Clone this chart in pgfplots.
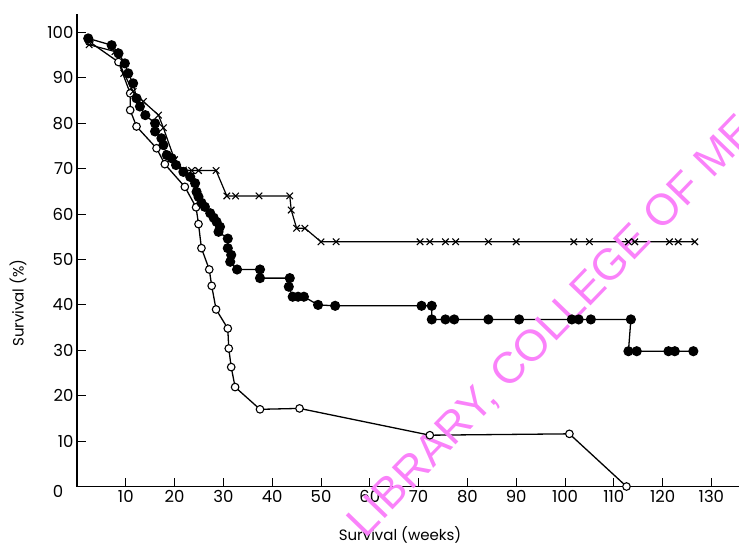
\documentclass[border=0pt]{standalone}
\usepackage{pgfplots}
\pgfplotsset{compat=1.18}
\usepackage{fontspec}
\setmainfont{Poppins}
\newfontfamily\wmfont{Liberation Sans}
\definecolor{wm}{RGB}{250,130,250}

\pgfplotstableread{
x y
2.5 98.0
8.5 93.5
10.9 86.6
10.9 82.9
12.2 79.3
16.3 74.5
18.0 71.0
22.1 66.0
24.4 61.5
24.9 57.8
25.5 52.5
27.1 47.8
27.6 44.2
28.5 39.0
30.9 34.8
31.1 30.4
31.6 26.3
32.4 21.9
37.5 17.0
45.6 17.2
72.3 11.3
100.9 11.6
112.6 0.0
}\opendata

\pgfplotstableread{
x y
2.5 97.3
7.8 95.8
9.6 91.0
11.5 87.0
13.6 84.8
16.7 81.8
17.7 79.0
20.0 72.0
21.8 69.7
23.5 69.6
24.9 69.6
28.5 69.6
30.7 64.0
32.5 64.0
37.3 64.0
43.6 64.0
43.9 60.9
45.0 56.9
46.7 56.9
50.0 53.9
53.1 53.9
70.3 53.9
72.3 53.9
75.5 53.9
77.6 53.9
84.3 53.9
90.0 53.9
101.8 53.9
105.0 53.9
113.0 53.9
114.3 53.9
121.4 53.9
123.2 53.9
126.6 53.9
}\xdata

\pgfplotstableread{
x y
2.3 98.7
7.1 97.2
8.5 95.4
9.8 93.2
10.5 91.0
11.5 88.8
12.2 85.5
12.9 83.7
14.0 81.8
16.0 80.0
16.0 78.2
17.3 76.7
17.7 75.2
18.4 73.0
19.4 72.3
20.3 70.8
21.8 69.3
23.2 68.2
24.2 66.8
24.5 64.9
24.9 63.8
25.5 62.5
26.2 61.6
27.3 60.2
28.0 59.2
28.6 58.3
29.3 57.2
29.0 56.1
30.9 54.6
30.9 52.5
31.6 51.0
31.4 49.5
32.8 47.8
37.5 47.8
37.5 45.9
43.6 45.9
43.4 44.0
44.2 41.8
45.3 41.8
46.5 41.8
49.4 40.0
52.9 39.8
70.6 39.8
72.7 39.8
72.7 36.8
75.5 36.8
77.3 36.8
84.3 36.8
90.6 36.8
101.4 36.8
102.8 36.8
105.3 36.8
113.5 36.8
113.0 29.8
114.7 29.8
121.2 29.8
122.5 29.8
126.3 29.8
}\filleddata

\begin{document}
\begin{tikzpicture}
\path[use as bounding box] (-77pt,-55.5pt) rectangle (662pt,486.5pt);
\begin{axis}[
  at={(0,0)}, anchor=south west,
  x=4.88pt, y=4.54pt,
  xmin=0, xmax=135.6, ymin=0, ymax=104,
  axis lines*=left,
  axis line style={line width=1.4pt, -},
  xtick={10,20,...,130}, ytick={10,20,...,100},
  tick align=inside, major tick length=9pt,
  tick style={line width=1pt, black},
  ticklabel style={font=\fontsize{16.5}{16.5}\selectfont},
  /pgf/number format/assume math mode=true,
  clip=false,
]
\addplot[black, line width=1.3pt, mark=*, mark size=3.8pt,
  mark options={fill=white, line width=1.1pt}] table {\opendata};
\addplot[black, line width=1.2pt, mark=x, mark size=4.6pt,
  mark options={line width=1.1pt}] table {\xdata};
\addplot[black, line width=1.3pt, mark=*, mark size=4.4pt,
  mark options={fill=black}] table {\filleddata};
\node[font=\fontsize{16.5}{16.5}\selectfont] at (axis cs:-3.9,-1.0) {0};
\node[font=\fontsize{15}{15}\selectfont] at (axis cs:66.2,-10.6) {Survival (weeks)};
\node[rotate=90, font=\fontsize{15}{15}\selectfont] at (axis cs:-12.1,40.4) {Survival (\%)};
\node[rotate=46, text=wm, font=\wmfont\fontsize{44}{44}\selectfont] at (axis cs:97.5,35.1) {LIBRARY, COLLEGE OF ME};
\end{axis}
\end{tikzpicture}
\end{document}
